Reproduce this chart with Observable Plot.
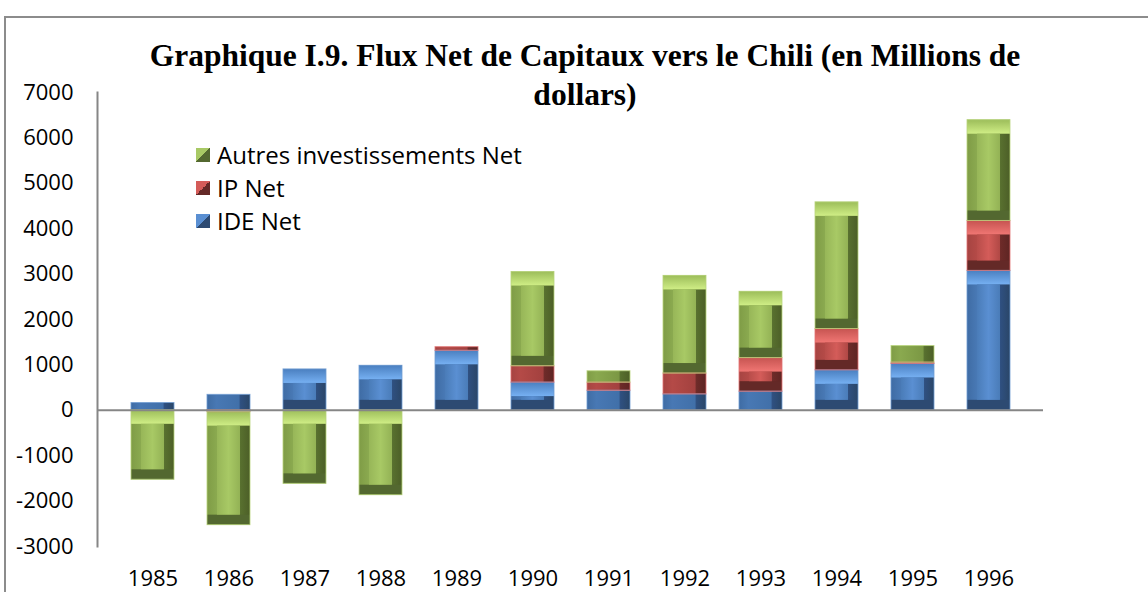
<!DOCTYPE html>
<html>
<head>
<meta charset="utf-8">
<script src="https://cdn.jsdelivr.net/npm/d3@7"></script>
<script src="https://cdn.jsdelivr.net/npm/@observablehq/plot@0.6"></script>
<style>
  body { margin: 0; background: #fff; }
  #wrap { position: relative; width: 1148px; height: 592px; overflow: hidden; }
  #border { position: absolute; left: 4px; top: 16px; width: 1200px; height: 700px; border-left: 2px solid #8c8c8c; border-top: 2px solid #8c8c8c; }
  #chart { position: absolute; left: 0; top: 0; }
  #title { position: absolute; left: 35px; width: 1100px; top: 36px; text-align: center; font-family: "Liberation Serif", serif; font-weight: bold; font-size: 31.5px; line-height: 39px; color: #000; }
  #legend { position: absolute; left: 196px; top: 138px; font-family: "Open Sans", sans-serif; font-size: 24px; color: #000; }
  #legend div { height: 33px; display: flex; align-items: center; }
  #legend span.sw { display: inline-block; width: 14px; height: 14px; margin-right: 7px; }
</style>
</head>
<body>
<div id="wrap">
  <div id="border"></div>
  <div id="chart"></div>
  <div id="title">Graphique I.9. Flux Net de Capitaux vers le Chili (en Millions de<br>dollars)</div>
  <div id="legend"></div>
</div>
<script>
const years = ["1985","1986","1987","1988","1989","1990","1991","1992","1993","1994","1995","1996"];
const seriesNames = ["IDE Net", "IP Net", "Autres investissements Net"];
const ideNet    = [160, 340, 900, 980, 1310, 610, 430, 350, 410, 880, 1020, 3070];
const ipNet     = [0, -40, 0, 0, 80, 360, 180, 460, 740, 910, 30, 1100];
const autresNet = [-1530, -2490, -1620, -1870, 0, 2075, 250, 2150, 1460, 2790, 365, 2220];
const yTicks = [-3000, -2000, -1000, 0, 1000, 2000, 3000, 4000, 5000, 6000, 7000];
const edgeColors = ["#6f9bd1", "#e07070", "#b8d47a"];
const bottomColors = ["#2d4a72", "#642927", "#536830"];

// stacked segments (positive and negative stacks separately, series order IDE, IP, Autres)
const values = [ideNet, ipNet, autresNet];
const segs = [];
years.forEach((y, j) => {
  let pos = 0, neg = 0;
  values.forEach((arr, k) => {
    const v = arr[j];
    if (v === 0) return;
    let lo, hi;
    if (v > 0) { lo = pos; hi = pos + v; pos = hi; }
    else { hi = neg; lo = neg + v; neg = lo; }
    segs.push({year: y, series: seriesNames[k], k, value: v, lo, hi});
  });
});
const tall = segs.filter(d => Math.abs(d.value) > 500);

const plot = Plot.plot({
  width: 1148,
  height: 592,
  marginLeft: 97,
  marginRight: 105,
  marginTop: 92,
  marginBottom: 46,
  style: {fontFamily: "Open Sans, sans-serif", fontSize: "22px", color: "#000", background: "transparent"},
  x: {domain: years, padding: 0.44, label: null},
  y: {domain: [-3000, 7000], label: null},
  marks: [
    // body with side bevels
    Plot.barY(segs, {x: "year", y1: "lo", y2: "hi", fill: d => `url(#side${d.k})`}),
    // top bevel (light)
    Plot.barY(tall, {x: "year", y1: "hi", y2: "hi", insetBottom: -14, fill: d => `url(#top${d.k})`}),
    // bottom bevel (dark)
    Plot.barY(tall, {x: "year", y1: "lo", y2: "lo", insetTop: -10, fill: d => bottomColors[d.k]}),
    // inner flat face
    Plot.barY(tall, {x: "year", y1: "lo", y2: "hi", fill: d => `url(#face${d.k})`, insetLeft: 10, insetRight: 10, insetTop: 14, insetBottom: 10}),
    // outline
    Plot.barY(segs, {x: "year", y1: "lo", y2: "hi", fill: "none", stroke: d => edgeColors[d.k], strokeWidth: 1, strokeOpacity: 0.8}),
    Plot.ruleY([0], {stroke: "#868686", strokeWidth: 2}),
    Plot.frame({anchor: "left", stroke: "#868686", strokeWidth: 2}),
    Plot.axisY({ticks: yTicks, tickSize: 0, tickPadding: 24, tickFormat: d => String(d), fontSize: 22}),
    Plot.axisX({tickSize: 0, tickPadding: 24, fontSize: 22})
  ]
});

// gradient definitions used by bar fills
const svg = d3.select(plot);
const defs = svg.insert("defs", ":first-child");
const side = [
  ["#3f6ca4", "#4878b4", "#4170a9", "#2f5080", "#2a4668"],
  ["#a64442", "#b44a47", "#a3413f", "#6e2b29", "#5e2523"],
  ["#7f9c46", "#8aa94f", "#7b9844", "#58702f", "#4c5f27"]
];
const sideStops = [0, 0.22, 0.74, 0.78, 1];
const face = [
  ["#4a7cb8", "#5a8fd2", "#4a7cb8"],
  ["#b84d4a", "#d45c59", "#b04845"],
  ["#97b658", "#a8c965", "#93b255"]
];
const topG = [
  ["#4a7fc0", "#76b0f2"],
  ["#c65451", "#f07673"],
  ["#9cbd5a", "#d0ee86"]
];
[0, 1, 2].forEach(i => {
  const g = defs.append("linearGradient").attr("id", "side" + i).attr("x1", "0").attr("x2", "1").attr("y1", "0").attr("y2", "0");
  sideStops.forEach((o, k) => g.append("stop").attr("offset", o).attr("stop-color", side[i][k]));
  const f = defs.append("linearGradient").attr("id", "face" + i).attr("x1", "0").attr("x2", "1").attr("y1", "0").attr("y2", "0");
  [0, 0.5, 1].forEach((o, k) => f.append("stop").attr("offset", o).attr("stop-color", face[i][k]));
  const t = defs.append("linearGradient").attr("id", "top" + i).attr("x1", "0").attr("x2", "0").attr("y1", "0").attr("y2", "1");
  [0, 1].forEach((o, k) => t.append("stop").attr("offset", o).attr("stop-color", topG[i][k]));
});

document.getElementById("chart").appendChild(plot);

const legend = document.getElementById("legend");
[2, 1, 0].forEach(i => {
  const row = document.createElement("div");
  row.innerHTML = `<span class="sw" style="background:linear-gradient(135deg, ${face[i][1]} 50%, ${bottomColors[i]} 50%)"></span>${seriesNames[i]}`;
  legend.appendChild(row);
});
</script>
</body>
</html>
